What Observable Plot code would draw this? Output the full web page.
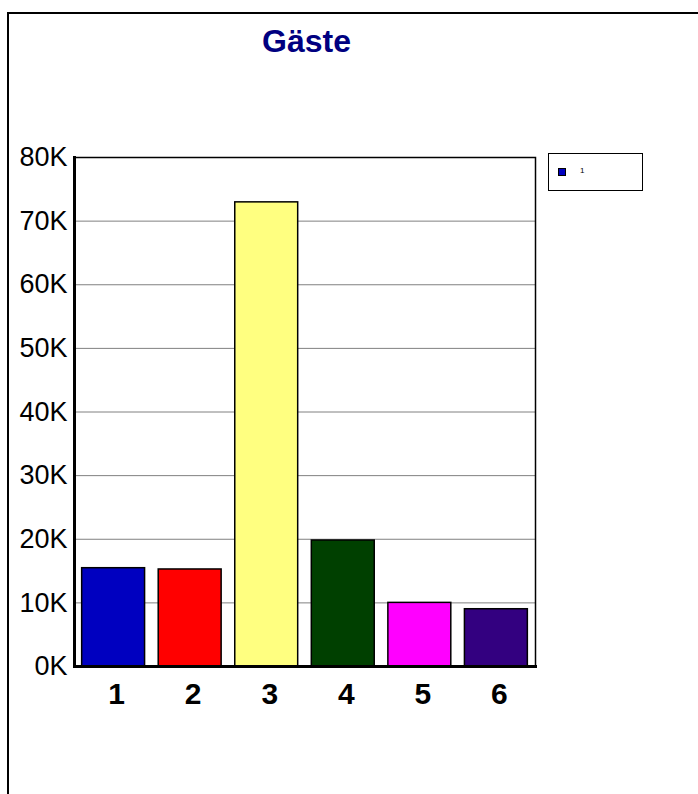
<!DOCTYPE html>
<html>
<head>
<meta charset="utf-8">
<script src="https://cdn.jsdelivr.net/npm/d3@7"></script>
<script src="https://cdn.jsdelivr.net/npm/@observablehq/plot@0.6"></script>
<style>
  html, body { margin: 0; padding: 0; background: #fff; overflow: hidden; }
  #wrap { position: relative; width: 698px; height: 794px; overflow: hidden; font-family: "Liberation Sans", Arial, sans-serif; }
  #border { position: absolute; left: 7px; top: 12px; width: 900px; height: 900px; border: 2px solid #000; box-sizing: border-box; }
  #title { position: absolute; left: 0; top: 26px; width: 613px; text-align: center; font-size: 32px; line-height: 30px; font-weight: bold; color: #000080; }
  #legend { position: absolute; left: 548px; top: 153px; width: 95px; height: 38px; border: 1px solid #000; box-sizing: border-box; background: #fff; }
  #legend .sw { position: absolute; left: 9px; top: 14px; width: 8px; height: 8px; border: 1px solid #000; box-sizing: border-box; }
  #legend .lb { position: absolute; left: 31px; top: 12px; font-size: 8px; line-height: 10px; color: #000; }
  #chart { position: absolute; left: 0; top: 0; }
</style>
</head>
<body>
<div id="wrap">
  <div id="chart"></div>
  <div id="border"></div>
  <div id="title"></div>
  <div id="legend"><div class="sw"></div><div class="lb"></div></div>
</div>
<script>
const categories = ["1", "2", "3", "4", "5", "6"];
const values = [15450, 15250, 72950, 19800, 10000, 9000];
const barColors = ["#0000C0", "#FF0000", "#FFFF80", "#004000", "#FF00FF", "#330080"];
const yTicks = [0, 10000, 20000, 30000, 40000, 50000, 60000, 70000, 80000];
const yTickLabels = ["0K", "10K", "20K", "30K", "40K", "50K", "60K", "70K", "80K"];
const titleText = "Gäste";
const legendLabels = ["1"];
const legendColors = ["#0000C0"];

const data = categories.map((c, i) => ({cat: c, value: values[i], color: barColors[i]}));
const gridTicks = yTicks.slice(1, -1);

document.getElementById("title").textContent = titleText;
document.querySelector("#legend .lb").textContent = legendLabels[0];
document.querySelector("#legend .sw").style.background = legendColors[0];

const chart = Plot.plot({
  width: 698,
  height: 794,
  marginLeft: 74,
  marginRight: 163,
  marginTop: 157,
  marginBottom: 128,
  style: {fontFamily: "'Liberation Sans', Arial, sans-serif", color: "#000", background: "transparent", overflow: "visible"},
  x: {domain: categories, paddingInner: 0.178, paddingOuter: 0.1, round: false},
  y: {domain: [0, 80000]},
  marks: [
    Plot.ruleY(gridTicks, {stroke: "#808080", strokeWidth: 1}),
    Plot.barY(data, {x: "cat", y: "value", fill: "color", stroke: "#000", strokeWidth: 1.5}),
    Plot.frame({stroke: "#000", strokeWidth: 1.5}),
    Plot.frame({anchor: "left", stroke: "#000", strokeWidth: 3}),
    Plot.frame({anchor: "bottom", stroke: "#000", strokeWidth: 3}),
    Plot.axisY({ticks: yTicks, tickFormat: d => yTickLabels[yTicks.indexOf(d)], tickSize: 0, tickPadding: 7, fontSize: 27, fill: "#000", label: null}),
    Plot.axisX({tickSize: 0, tickPadding: 16, dx: 3, fontSize: 30, fontWeight: "bold", fill: "#000", label: null})
  ]
});
document.getElementById("chart").appendChild(chart);
</script>
</body>
</html>
